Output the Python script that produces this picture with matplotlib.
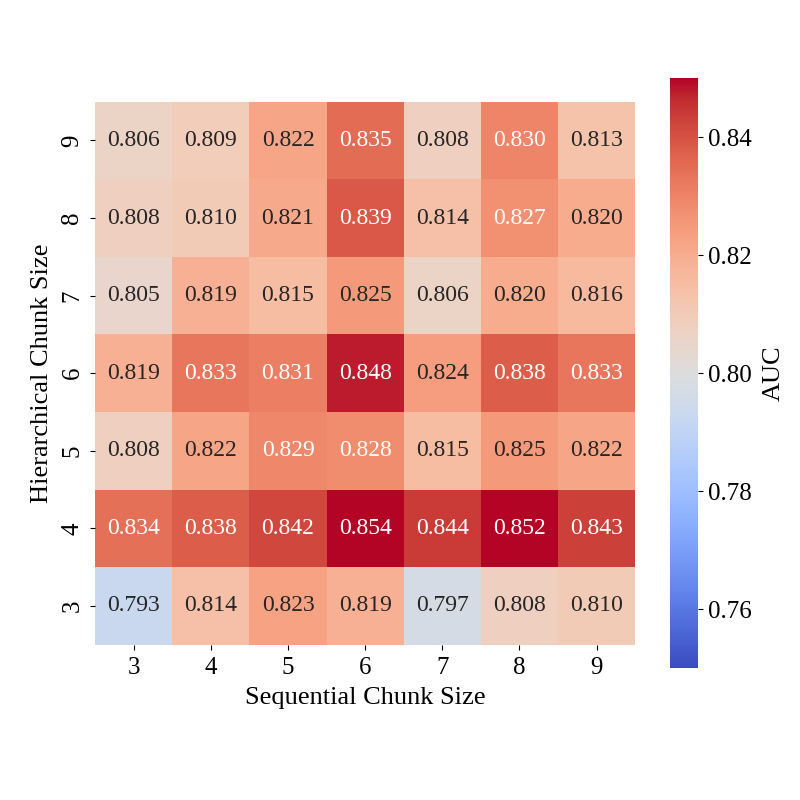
#heatmap of AUC over hierarchical vs sequential chunk sizes

import numpy as np
import seaborn as sns
from matplotlib import pyplot as plt

seq_sizes = [3, 4, 5, 6, 7, 8, 9]
hier_sizes = [9, 8, 7, 6, 5, 4, 3]   # top to bottom

auc_9 = [0.806, 0.809, 0.822, 0.835, 0.808, 0.830, 0.813]
auc_8 = [0.808, 0.810, 0.821, 0.839, 0.814, 0.827, 0.820]
auc_7 = [0.805, 0.819, 0.815, 0.825, 0.806, 0.820, 0.816]
auc_6 = [0.819, 0.833, 0.831, 0.848, 0.824, 0.838, 0.833]
auc_5 = [0.808, 0.822, 0.829, 0.828, 0.815, 0.825, 0.822]
auc_4 = [0.834, 0.838, 0.842, 0.854, 0.844, 0.852, 0.843]
auc_3 = [0.793, 0.814, 0.823, 0.819, 0.797, 0.808, 0.810]

auc = np.array([auc_9, auc_8, auc_7, auc_6, auc_5, auc_4, auc_3])

plt.rcParams['font.family'] = ['Liberation Serif', 'DejaVu Serif']

fig = plt.figure(figsize=(8, 8), dpi=100)
ax = fig.add_axes([0.119, 0.194, 0.675, 0.679])
cax = fig.add_axes([0.8375, 0.165, 0.035, 0.7375])
sns.heatmap(auc, ax=ax, cbar_ax=cax, cmap='coolwarm', vmin=0.75, vmax=0.85,
            annot=True, fmt='.3f', annot_kws={'size': 17},
            xticklabels=seq_sizes, yticklabels=hier_sizes,
            cbar_kws={'ticks': [0.76, 0.78, 0.80, 0.82, 0.84]})
ax.set_xlabel('Sequential Chunk Size', fontsize=19, labelpad=6)
ax.set_ylabel('Hierarchical Chunk Size', fontsize=19, labelpad=6)
ax.tick_params(labelsize=18, pad=5)
cax.tick_params(labelsize=18)
cax.set_ylabel('AUC', fontsize=19, labelpad=8)
cax.yaxis.set_major_formatter(plt.FormatStrFormatter('%.2f'))

fig.savefig('out.png', dpi=100)
